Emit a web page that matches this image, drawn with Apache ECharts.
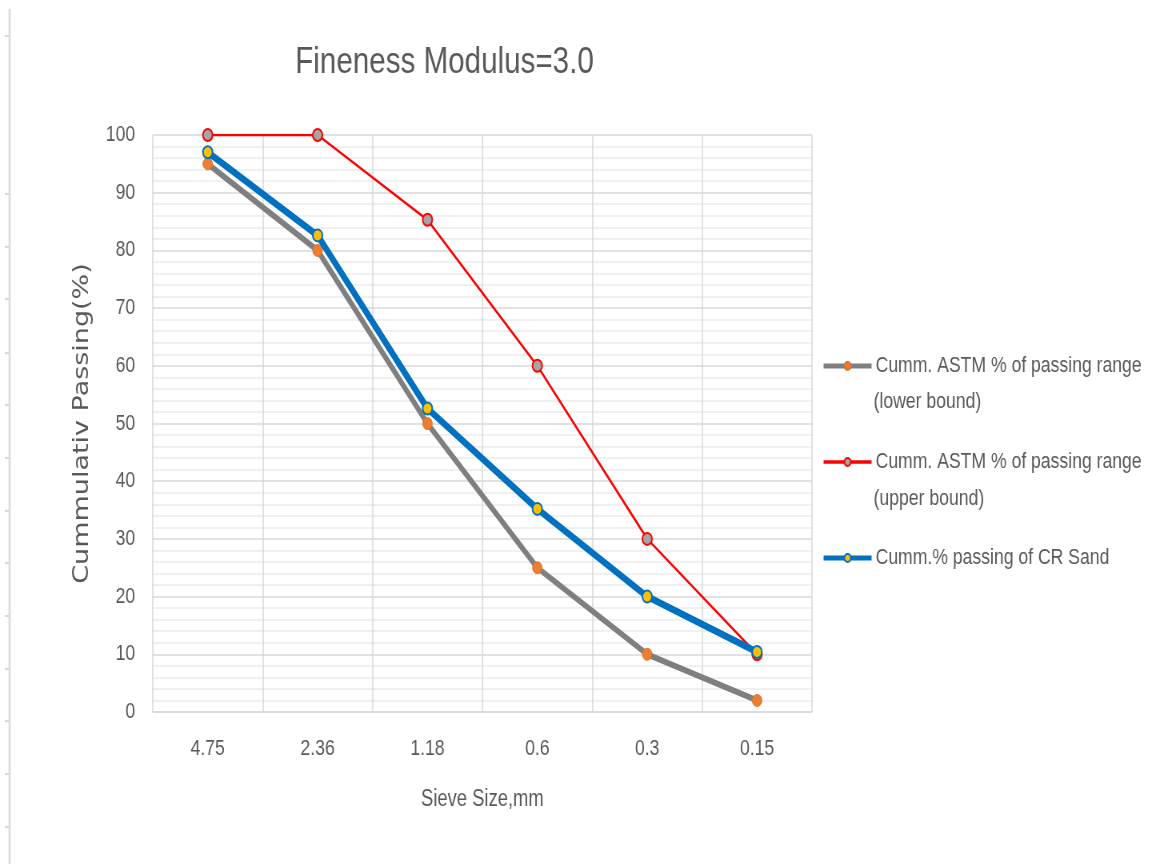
<!DOCTYPE html>
<html>
<head>
<meta charset="utf-8">
<script src="https://cdn.jsdelivr.net/npm/echarts@6/dist/echarts.min.js"></script>
<style>
  html, body { margin: 0; padding: 0; overflow: hidden; background: #ffffff; }
  /* the chart is laid out wide and then condensed horizontally */
  #chart { width: 1449px; height: 864px; transform: scaleX(0.8); transform-origin: 0 0; }
</style>
</head>
<body>
<div id="chart"></div>
<script>
// Sieve sizes (mm), coarse to fine
const sieveSizes = ['4.75', '2.36', '1.18', '0.6', '0.3', '0.15'];

// Cumulative % passing
const lowerBound = [95, 80, 50, 25, 10, 2];      // ASTM range, lower bound
const upperBound = [100, 100, 85.3, 60, 30, 10]; // ASTM range, upper bound
const crSand     = [97, 82.6, 52.6, 35.2, 20, 10.4];

const seriesNames = [
  'Cumm. ASTM % of passing range',
  'Cumm. ASTM % of passing range ',
  'Cumm.% passing of CR Sand'
];
const legendSecondLines = ['(lower bound)', '(upper bound)'];

const textGrey = '#595959';
const font = '"Liberation Sans", Arial, sans-serif';

const lineColors = ['#7F7F7F', '#FF0000', '#0070C0'];
const lineWidths = [6, 2.5, 7];
const legendLineWidths = [5, 3.5, 5];

// light ruler along the left page edge
const rulerTicks = [36, 194, 247, 299, 353, 405, 458, 511, 563, 616, 669, 721, 774, 827];
const rulerGraphics = [{
  type: 'line',
  shape: { x1: 12, y1: 9, x2: 12, y2: 864 },
  style: { stroke: '#D9D9D9', lineWidth: 2.5 }
}].concat(rulerTicks.map(y => ({
  type: 'line',
  shape: { x1: 6, y1: y, x2: 12, y2: y },
  style: { stroke: '#D9D9D9', lineWidth: 2 }
})));

const chart = echarts.init(document.getElementById('chart'), null, { renderer: 'canvas' });

chart.setOption({
  backgroundColor: '#ffffff',
  animation: false,
  title: {
    text: 'Fineness Modulus=3.0',
    left: 369,
    top: 44,
    padding: 0,
    textStyle: { color: textGrey, fontSize: 37, fontWeight: 'normal', fontFamily: font }
  },
  grid: { left: 191, right: 434, top: 135, bottom: 152, containLabel: false },
  legend: {
    orient: 'vertical',
    left: 1022,
    top: 350,
    itemWidth: 60,
    itemHeight: 10,
    itemGap: 74,
    data: seriesNames.map((n, i) => ({
      name: n,
      lineStyle: { color: lineColors[i], width: legendLineWidths[i] }
    })),
    textStyle: { color: textGrey, fontSize: 22, fontFamily: font }
  },
  xAxis: {
    type: 'category',
    data: sieveSizes,
    boundaryGap: true,
    name: 'Sieve Size,mm',
    nameLocation: 'middle',
    nameGap: 76,
    nameTextStyle: { color: textGrey, fontSize: 23, fontFamily: font },
    axisLine: { show: true, lineStyle: { color: '#D9D9D9', width: 1.5 } },
    axisTick: { show: false },
    axisLabel: { color: textGrey, fontSize: 22, fontFamily: font, margin: 26 },
    splitLine: { show: true, interval: 0, lineStyle: { color: '#D9D9D9', width: 1.5 } }
  },
  yAxis: {
    type: 'value',
    min: 0,
    max: 100,
    interval: 10,
    name: 'Cummulativ Passing(%)',
    nameLocation: 'middle',
    nameRotate: 90,
    nameGap: 75,
    nameTextStyle: { color: textGrey, fontSize: 27, fontFamily: '"DejaVu Sans", sans-serif' },
    axisLine: { show: false },
    axisTick: { show: false },
    axisLabel: { color: textGrey, fontSize: 22, fontFamily: font, margin: 22 },
    splitLine: { show: true, lineStyle: { color: '#D9D9D9', width: 1.5 } },
    minorTick: { show: false, splitNumber: 5 },
    minorSplitLine: { show: true, lineStyle: { color: '#EBEBEB', width: 1.5 } }
  },
  series: [
    {
      name: seriesNames[0],
      type: 'line',
      data: lowerBound,
      symbol: 'circle',
      symbolSize: 12,
      lineStyle: { color: lineColors[0], width: lineWidths[0] },
      itemStyle: { color: '#ED7D31', borderColor: '#D9762E', borderWidth: 1 },
      z: 2
    },
    {
      name: seriesNames[1],
      type: 'line',
      data: upperBound,
      symbol: 'circle',
      symbolSize: 12,
      lineStyle: { color: lineColors[1], width: lineWidths[1] },
      itemStyle: { color: '#A5A5A5', borderColor: '#FF0000', borderWidth: 2 },
      z: 3
    },
    {
      name: seriesNames[2],
      type: 'line',
      data: crSand,
      symbol: 'circle',
      symbolSize: 12,
      lineStyle: { color: lineColors[2], width: lineWidths[2] },
      itemStyle: { color: '#FFC000', borderColor: '#0070C0', borderWidth: 2 },
      z: 4
    }
  ],
  graphic: rulerGraphics.concat(legendSecondLines.map((t, i) => ({
    type: 'text',
    left: 1092,
    top: 391 + i * 97,
    style: { text: t, fill: textGrey, fontSize: 22, fontFamily: font }
  })))
});
</script>
</body>
</html>
